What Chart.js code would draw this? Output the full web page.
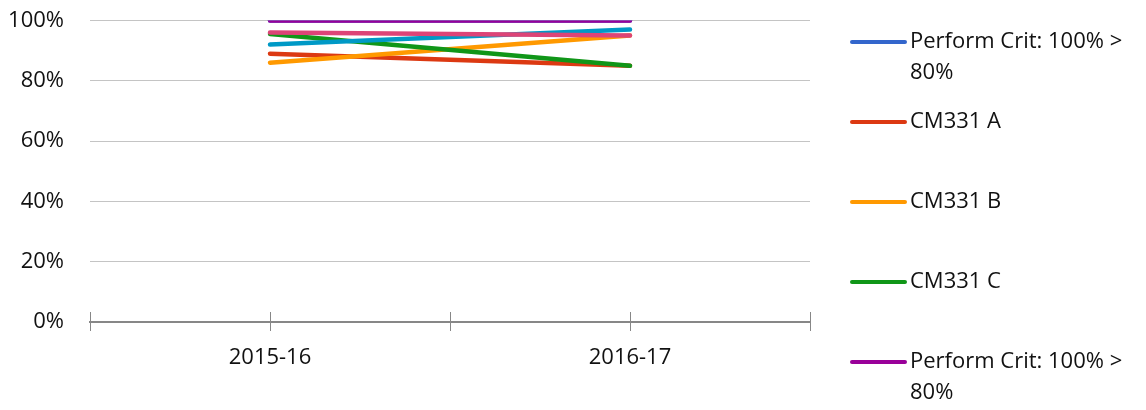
<!DOCTYPE html>
<html>
<head>
<meta charset="utf-8">
<script src="https://cdn.jsdelivr.net/npm/chart.js@4/dist/chart.umd.min.js"></script>
<style>
  html, body { margin: 0; padding: 0; background: #fff; }
  #wrap { width: 1146px; height: 410px; position: relative; }
</style>
</head>
<body>
<div id="wrap"><canvas id="c" width="1146" height="410"></canvas></div>
<script>
// ---- data ----
const categories = ['2015-16', '2016-17'];
const seriesNames = ['Perform Crit: 100% > 80%', 'CM331 A', 'CM331 B', 'CM331 C', 'Perform Crit: 100% > 80%', '', ''];
const perfCritA = [100, 100];
const cm331A = [89, 85];
const cm331B = [86, 95];
const cm331C = [95.5, 85];
const perfCritB = [100, 100];
const series6 = [92, 97];
const series7 = [96, 95];
const yTicks = [0, 20, 40, 60, 80, 100];

// ---- styles ----
const seriesColors = ['#3366cc', '#dc3912', '#ff9900', '#109618', '#990099', '#0099c6', '#dd4477'];
const FONT = '"Open Sans", "DejaVu Sans", sans-serif';

const seriesValues = [perfCritA, cm331A, cm331B, cm331C, perfCritB, series6, series7];

const datasets = seriesValues.map((vals, i) => ({
  label: seriesNames[i],
  data: vals.map((v, j) => ({ x: j + 0.5, y: v })),
  borderColor: seriesColors[i],
  backgroundColor: seriesColors[i],
  borderWidth: 4.5,
  borderCapStyle: 'round',
  pointRadius: 0,
  pointHoverRadius: 0,
  fill: false,
  tension: 0,
  order: seriesValues.length - i
}));

const crossTicks = {
  id: 'crossTicks',
  afterDraw(chart) {
    const ctx = chart.ctx;
    const xs = chart.scales.x;
    const y0 = chart.chartArea.bottom;
    ctx.save();
    ctx.strokeStyle = '#878787';
    ctx.lineWidth = 1;
    xs.ticks.forEach(t => {
      const px = Math.round(xs.getPixelForValue(t.value)) + 0.5;
      ctx.beginPath();
      ctx.moveTo(px, y0 - 10);
      ctx.lineTo(px, y0);
      ctx.stroke();
    });
    ctx.restore();
  }
};

const sideLegend = {
  id: 'sideLegend',
  afterDraw(chart) {
    const ctx = chart.ctx;
    ctx.save();
    ctx.font = '22px ' + FONT;
    ctx.textBaseline = 'middle';
    ctx.fillStyle = '#111';
    let k = 0;
    chart.data.datasets.forEach(ds => {
      if (!ds.label) return;
      const y = 42 + k * 80;
      k++;
      ctx.strokeStyle = ds.borderColor;
      ctx.lineWidth = 4;
      ctx.lineCap = 'round';
      ctx.beginPath();
      ctx.moveTo(852, y);
      ctx.lineTo(905, y);
      ctx.stroke();
      // wrap text
      const words = ds.label.split(' ');
      const lines = [];
      let cur = '';
      words.forEach(w => {
        const test = cur ? cur + ' ' + w : w;
        if (ctx.measureText(test).width > 232 && cur) { lines.push(cur); cur = w; }
        else cur = test;
      });
      if (cur) lines.push(cur);
      lines.forEach((ln, li) => ctx.fillText(ln, 910, y + li * 31));
    });
    ctx.restore();
  }
};

new Chart(document.getElementById('c'), {
  type: 'line',
  data: { datasets },
  plugins: [crossTicks, sideLegend],
  options: {
    responsive: false,
    animation: false,
    events: [],
    layout: { padding: { top: 0, right: 336, bottom: 0, left: 0 } },
    plugins: { legend: { display: false }, tooltip: { enabled: false } },
    scales: {
      x: {
        type: 'linear',
        min: 0,
        max: 2,
        afterFit(s) { s.height = 88; },
        afterBuildTicks(s) { s.ticks = [0, 0.5, 1, 1.5, 2].map(v => ({ value: v })); },
        grid: { drawOnChartArea: false, drawTicks: true, tickLength: 9, color: '#878787', lineWidth: 1 },
        border: { display: true, color: '#878787', width: 2 },
        ticks: {
          autoSkip: false,
          maxRotation: 0,
          padding: 14,
          color: '#111',
          font: { family: FONT, size: 22 },
          callback(v) {
            const idx = v - 0.5;
            return Number.isInteger(idx) && categories[idx] !== undefined ? categories[idx] : '';
          }
        }
      },
      y: {
        min: 0,
        max: 100,
        afterFit(s) { s.width = 90; },
        afterBuildTicks(s) { s.ticks = yTicks.map(v => ({ value: v })); },
        grid: { drawTicks: true, tickLength: 26, tickColor: 'rgba(0,0,0,0)', color: '#c4c4c4', lineWidth: 1 },
        border: { display: false },
        ticks: {
          padding: 0,
          color: '#111',
          font: { family: FONT, size: 22, lineHeight: 1.86 },
          callback(v) { return v + '%'; }
        }
      }
    }
  }
});
</script>
</body>
</html>
